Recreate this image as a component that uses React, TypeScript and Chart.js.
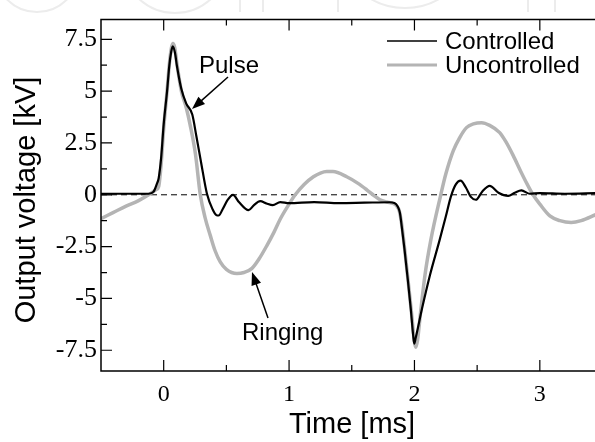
import React, { useEffect, useRef } from "react";
import { Chart, registerables } from "chart.js";

Chart.register(...registerables);

// ---- Data ----
const CONTROLLED_T = [
  -0.5, -0.3, -0.12, -0.08, -0.053, -0.04, -0.02, 0.0, 0.027, 0.045, 0.06, 0.072, 0.09, 0.106, 0.141, 0.18,
  0.228, 0.26, 0.3, 0.345, 0.39, 0.42, 0.438, 0.47, 0.51, 0.553, 0.6, 0.677, 0.72, 0.77, 0.82, 0.87, 0.93,
  1.0, 1.2, 1.4, 1.6, 1.8, 1.84, 1.865, 1.884, 1.898, 1.92, 1.943, 1.97, 1.99, 1.998, 2.01, 2.06, 2.124,
  2.2, 2.25, 2.29, 2.33, 2.368, 2.41, 2.45, 2.49, 2.54, 2.6, 2.67, 2.748, 2.8, 2.853, 2.92, 3.0, 3.2, 3.45,
];
const CONTROLLED_V = [
  0.05, 0.05, 0.05, 0.15, 0.55, 0.8, 1.8, 3.4, 5.0, 6.24, 6.9, 7.16, 6.85, 6.2, 5.1, 4.4,
  3.87, 2.85, 1.5, 0.05, -0.7, -0.98, -1.0, -0.7, -0.25, 0.0, -0.35, -0.74, -0.5, -0.31, -0.42, -0.5, -0.35,
  -0.4, -0.35, -0.4, -0.38, -0.36, -0.4, -0.55, -0.87, -1.5, -2.6, -3.87, -5.45, -6.8, -7.18, -6.9, -5.5, -3.87,
  -2.2, -1.05, -0.1, 0.5, 0.68, 0.35, -0.1, -0.24, 0.15, 0.43, 0.1, -0.05, 0.1, 0.21, 0.05, 0.08, 0.05, 0.08,
];

const UNCONTROLLED_T = [
  -0.5, -0.4, -0.3, -0.2, -0.12, -0.06, -0.04, -0.02, 0.0, 0.027, 0.045, 0.062, 0.074, 0.088, 0.106, 0.141,
  0.18, 0.21, 0.253, 0.292, 0.33, 0.372, 0.41, 0.451, 0.5, 0.584, 0.64, 0.704, 0.76, 0.823, 0.88, 0.929, 0.99,
  1.049, 1.12, 1.194, 1.25, 1.3, 1.35, 1.46, 1.55, 1.62, 1.68, 1.725, 1.78, 1.83, 1.86, 1.88, 1.9, 1.945,
  1.975, 2.0, 2.01, 2.025, 2.05, 2.084, 2.13, 2.21, 2.25, 2.31, 2.36, 2.415, 2.47, 2.535, 2.6, 2.68, 2.73,
  2.787, 2.85, 2.9, 2.946, 3.0, 3.08, 3.16, 3.25, 3.33, 3.45,
];
const UNCONTROLLED_V = [
  -1.15, -0.85, -0.55, -0.28, 0.0, 0.25, 0.4, 1.5, 3.2, 5.0, 6.3, 7.1, 7.3, 7.1, 6.3, 5.0,
  4.2, 3.4, 1.98, 0.0, -1.1, -1.97, -2.7, -3.24, -3.6, -3.8, -3.75, -3.55, -3.1, -2.45, -1.8, -1.18, -0.55,
  0.0, 0.5, 0.87, 1.05, 1.12, 1.12, 0.87, 0.55, 0.24, -0.05, -0.24, -0.35, -0.42, -0.55, -0.8, -1.5, -3.9,
  -5.6, -7.1, -7.35, -7.0, -5.6, -3.87, -2.2, 0.0, 1.0, 2.13, 2.75, 3.24, 3.42, 3.48, 3.35, 3.0, 2.55,
  1.9, 1.1, 0.5, 0.0, -0.45, -1.02, -1.25, -1.34, -1.25, -0.95,
];

const SERIES_LABELS = ["Controlled", "Uncontrolled"];
const X_TICKS = [0, 1, 2, 3];
const X_MINOR = [0.5, 1.5, 2.5];
const Y_TICKS = [-7.5, -5, -2.5, 0, 2.5, 5, 7.5];
const Y_MINOR = [-6.25, -3.75, -1.25, 1.25, 3.75, 6.25];
const X_TITLE = "Time [ms]";
const Y_TITLE = "Output voltage [kV]";
const PULSE_LABEL = "Pulse";
const RINGING_LABEL = "Ringing";

const BLACK = "#000000";
const GRAY = "#b4b4b4";
const SANS = "'Liberation Sans', Arial, sans-serif";
const SERIF = "'Liberation Serif', 'Times New Roman', serif";

function toPoints(ts: number[], vs: number[]) {
  return ts.map((t, i) => ({ x: t, y: vs[i] }));
}

function arrow(ctx: CanvasRenderingContext2D, x1: number, y1: number, x2: number, y2: number) {
  const ang = Math.atan2(y2 - y1, x2 - x1);
  const hl = 13;
  const hw = 5;
  ctx.save();
  ctx.strokeStyle = BLACK;
  ctx.fillStyle = BLACK;
  ctx.lineWidth = 1.5;
  ctx.beginPath();
  ctx.moveTo(x1, y1);
  ctx.lineTo(x2 - Math.cos(ang) * hl * 0.8, y2 - Math.sin(ang) * hl * 0.8);
  ctx.stroke();
  ctx.beginPath();
  ctx.moveTo(x2, y2);
  ctx.lineTo(x2 - Math.cos(ang) * hl - Math.sin(ang) * hw, y2 - Math.sin(ang) * hl + Math.cos(ang) * hw);
  ctx.lineTo(x2 - Math.cos(ang) * hl + Math.sin(ang) * hw, y2 - Math.sin(ang) * hl - Math.cos(ang) * hw);
  ctx.closePath();
  ctx.fill();
  ctx.restore();
}

const decorPlugin = {
  id: "decor",
  beforeDraw(chart: any) {
    const ctx: CanvasRenderingContext2D = chart.ctx;
    ctx.save();
    ctx.fillStyle = "#ffffff";
    ctx.fillRect(0, 0, chart.width, chart.height);
    // faint watermark arcs at the top
    ctx.strokeStyle = "#ececec";
    ctx.lineWidth = 2;
    const arcs = [
      [37, -30, 42],
      [175, -40, 53],
      [405, -60, 68],
    ];
    arcs.forEach(([cx, cy, r]) => {
      ctx.beginPath();
      ctx.arc(cx, cy, r, 0, Math.PI);
      ctx.stroke();
    });
    [240, 263, 338, 528, 555].forEach((x) => {
      ctx.beginPath();
      ctx.moveTo(x, 0);
      ctx.lineTo(x, 12);
      ctx.stroke();
    });
    ctx.restore();
  },
  beforeDatasetsDraw(chart: any) {
    const { ctx, chartArea } = chart;
    const y0 = chart.scales.y.getPixelForValue(0);
    ctx.save();
    ctx.strokeStyle = BLACK;
    ctx.lineWidth = 1;
    ctx.setLineDash([6, 4]);
    ctx.beginPath();
    ctx.moveTo(chartArea.left, y0);
    ctx.lineTo(chartArea.right, y0);
    ctx.stroke();
    ctx.restore();
  },
  afterDraw(chart: any) {
    const ctx: CanvasRenderingContext2D = chart.ctx;
    const { left, right, top, bottom } = chart.chartArea;
    const xs = chart.scales.x;
    const ys = chart.scales.y;
    ctx.save();
    ctx.strokeStyle = BLACK;
    ctx.lineWidth = 1.5;
    // frame (left, top, bottom)
    ctx.beginPath();
    ctx.moveTo(right + 2, top);
    ctx.lineTo(left, top);
    ctx.lineTo(left, bottom);
    ctx.lineTo(right + 2, bottom);
    ctx.stroke();
    // ticks
    const major = 11;
    const minor = 6;
    ctx.lineWidth = 1.2;
    ctx.beginPath();
    Y_TICKS.forEach((v) => {
      const p = ys.getPixelForValue(v);
      ctx.moveTo(left, p);
      ctx.lineTo(left + major, p);
    });
    Y_MINOR.forEach((v) => {
      const p = ys.getPixelForValue(v);
      ctx.moveTo(left, p);
      ctx.lineTo(left + minor, p);
    });
    X_TICKS.forEach((v) => {
      const p = xs.getPixelForValue(v);
      ctx.moveTo(p, bottom);
      ctx.lineTo(p, bottom - major);
      ctx.moveTo(p, top);
      ctx.lineTo(p, top + major);
    });
    X_MINOR.forEach((v) => {
      const p = xs.getPixelForValue(v);
      ctx.moveTo(p, bottom);
      ctx.lineTo(p, bottom - minor);
      ctx.moveTo(p, top);
      ctx.lineTo(p, top + minor);
    });
    ctx.stroke();

    // axis titles
    ctx.fillStyle = BLACK;
    ctx.font = `29px ${SANS}`;
    ctx.textAlign = "center";
    ctx.textBaseline = "middle";
    ctx.fillText(X_TITLE, (left + right) / 2 + 4, 425);
    ctx.save();
    ctx.translate(27, 200);
    ctx.rotate(-Math.PI / 2);
    ctx.fillText(Y_TITLE, 0, 0);
    ctx.restore();

    // legend
    ctx.font = `24px ${SANS}`;
    ctx.textAlign = "left";
    const legendRows = [
      { label: SERIES_LABELS[0], color: BLACK, width: 1.5, y: 41 },
      { label: SERIES_LABELS[1], color: GRAY, width: 3, y: 65 },
    ];
    legendRows.forEach((r) => {
      ctx.strokeStyle = r.color;
      ctx.lineWidth = r.width;
      ctx.beginPath();
      ctx.moveTo(387, r.y);
      ctx.lineTo(437, r.y);
      ctx.stroke();
      ctx.fillText(r.label, 445, r.y + 1);
    });

    // annotations
    ctx.font = `24px ${SANS}`;
    ctx.textAlign = "left";
    ctx.fillText(PULSE_LABEL, 199, 66);
    arrow(ctx, 228, 77, 192, 109);
    ctx.fillText(RINGING_LABEL, 242, 333);
    arrow(ctx, 268, 318, 252, 272);
    ctx.restore();
  },
};

export default function App() {
  const ref = useRef<HTMLCanvasElement | null>(null);
  useEffect(() => {
    if (!ref.current) return;
    const chart = new Chart(ref.current, {
      type: "line",
      data: {
        datasets: [
          {
            label: SERIES_LABELS[0],
            data: toPoints(CONTROLLED_T, CONTROLLED_V),
            borderColor: BLACK,
            borderWidth: 2.2,
            pointRadius: 0,
            cubicInterpolationMode: "monotone",
            fill: false,
          },
          {
            label: SERIES_LABELS[1],
            data: toPoints(UNCONTROLLED_T, UNCONTROLLED_V),
            borderColor: GRAY,
            borderWidth: 3.5,
            pointRadius: 0,
            cubicInterpolationMode: "monotone",
            fill: false,
          },
        ],
      },
      options: {
        animation: false,
        responsive: false,
        devicePixelRatio: 1,
        parsing: false,
        events: [],
        layout: { padding: { top: 14, right: 0, left: 0, bottom: 0 } },
        plugins: {
          legend: { display: false },
          tooltip: { enabled: false },
          title: { display: false },
        },
        scales: {
          x: {
            type: "linear",
            min: -0.5,
            max: 3.44,
            grid: { display: false, drawTicks: false },
            border: { display: false },
            afterBuildTicks: (s: any) => {
              s.ticks = X_TICKS.map((v) => ({ value: v }));
            },
            afterFit: (s: any) => {
              s.height = 71;
            },
            ticks: {
              autoSkip: false,
              maxRotation: 0,
              padding: 9,
              color: BLACK,
              font: { family: SERIF, size: 24 },
              callback: (v: any) => String(v),
            },
          },
          y: {
            type: "linear",
            min: -8.5,
            max: 8.45,
            grid: { display: false, drawTicks: false },
            border: { display: false },
            afterBuildTicks: (s: any) => {
              s.ticks = Y_TICKS.map((v) => ({ value: v }));
            },
            afterFit: (s: any) => {
              s.width = 101;
            },
            ticks: {
              autoSkip: false,
              padding: 4,
              color: BLACK,
              font: { family: SERIF, size: 26 },
              callback: (v: any) => String(v),
            },
          },
        },
      },
      plugins: [decorPlugin],
    } as any);
    return () => chart.destroy();
  }, []);
  return (
    <div style={{ position: "absolute", left: 0, top: 0, width: 595, height: 442, overflow: "hidden" }}>
      <canvas ref={ref} width={595} height={442} style={{ display: "block" }} />
    </div>
  );
}
